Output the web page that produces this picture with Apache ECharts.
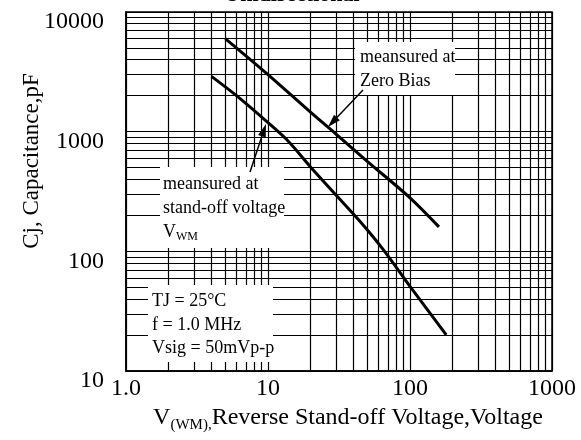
<!DOCTYPE html>
<html>
<head>
<meta charset="utf-8">
<script src="https://cdn.jsdelivr.net/npm/echarts@6/dist/echarts.min.js"></script>
<style>
  html, body { margin: 0; padding: 0; background: #fff; }
  #chart { width: 581px; height: 440px; }
</style>
</head>
<body>
<div id="chart"></div>
<script>
// axis ticks (log decades) and the 1..9 multipliers used for the log grid
const xTicks = [1, 10, 100, 1000];
const yTicks = [10, 100, 1000, 10000];
const gridMult = [1, 2, 3, 4, 5, 6, 7, 8, 9];

// measured at zero bias
const zeroBiasV = [5, 10, 20, 30, 50, 100, 160];
const zeroBiasC = [6000, 3000, 1450, 960, 565, 280, 160];

// measured at stand-off voltage
const standOffV = [4, 6, 10, 14, 20, 30, 45, 65, 100, 180];
const standOffC = [2900, 2000, 1190, 825, 505, 297, 175, 103, 51, 20];

const font = 'Liberation Serif';

// build log grid line values (1..9 per decade)
function logGrid(ticks) {
  let out = [];
  for (let i = 0; i < ticks.length - 1; i++) {
    gridMult.forEach(m => out.push(ticks[i] * m));
  }
  out.push(ticks[ticks.length - 1]);
  return out;
}
const xGrid = logGrid(xTicks);
const yGrid = logGrid(yTicks);

// arrow = line + filled head, tip at (x2,y2)
function arrow(x1, y1, x2, y2) {
  let dx = x2 - x1, dy = y2 - y1;
  let len = Math.sqrt(dx * dx + dy * dy);
  let ux = dx / len, uy = dy / len;
  let bx = x2 - 13 * ux, by = y2 - 13 * uy;
  let px = -uy, py = ux;
  return [
    { type: 'line', z: 60, shape: { x1: x1, y1: y1, x2: bx, y2: by },
      style: { stroke: '#000', lineWidth: 1.5 } },
    { type: 'polygon', z: 60,
      shape: { points: [[x2, y2], [bx + 4 * px, by + 4 * py], [bx - 4 * px, by - 4 * py]] },
      style: { fill: '#000' } }
  ];
}

function box(x, y, w, h) {
  return { type: 'rect', z: 50, shape: { x: x, y: y, width: w, height: h }, style: { fill: '#fff' } };
}

function label(x, y, text, size) {
  return { type: 'text', z: 55, x: x, y: y,
    style: { text: text, fontFamily: font, fontSize: size || 18, lineHeight: 23.5, fill: '#000',
      align: 'left', verticalAlign: 'top' } };
}

const chart = echarts.init(document.getElementById('chart'), null, { renderer: 'canvas' });

const option = {
  animation: false,
  backgroundColor: '#fff',
  grid: { left: 126, right: 29, top: 12, bottom: 69, show: true, borderColor: '#000', borderWidth: 1.5 },
  xAxis: {
    type: 'log', logBase: 10, min: 1, max: 1000,
    axisLine: { show: true, lineStyle: { color: '#000', width: 1.5 } },
    axisTick: { show: false },
    splitLine: { show: false },
    axisLabel: {
      fontFamily: font, fontSize: 24, color: '#000', margin: 6,
      formatter: v => (Math.round(v) === 1 ? '1.0' : String(Math.round(v)))
    }
  },
  yAxis: {
    type: 'log', logBase: 10, min: 10, max: 10000,
    axisLine: { show: true, lineStyle: { color: '#000', width: 1.5 } },
    axisTick: { show: false },
    splitLine: { show: false },
    axisLabel: {
      fontFamily: font, fontSize: 24, color: '#000', margin: 22,
      verticalAlign: 'top', lineHeight: 20,
      formatter: v => String(Math.round(v))
    }
  },
  series: [
    {
      name: 'zero bias', type: 'line', smooth: 0.3, symbol: 'none', z: 5,
      lineStyle: { color: '#000', width: 3 },
      data: zeroBiasV.map((v, i) => [v, zeroBiasC[i]]),
      markLine: {
        silent: true, symbol: ['none', 'none'], label: { show: false },
        lineStyle: { color: '#000', width: 1.2, type: 'solid' },
        emphasis: { disabled: true },
        data: xGrid.map(v => ({ xAxis: v })).concat(yGrid.map(v => ({ yAxis: v })))
      }
    },
    {
      name: 'stand-off', type: 'line', smooth: 0.3, symbol: 'none', z: 5,
      lineStyle: { color: '#000', width: 3 },
      data: standOffV.map((v, i) => [v, standOffC[i]])
    }
  ],
  graphic: [
    // title, cut off at the top edge
    { type: 'text', z: 55, x: 292, y: -16,
      style: { text: 'Unidirectional', fontFamily: font, fontSize: 22, fontWeight: 'bold', fill: '#000', align: 'center', verticalAlign: 'top' } },
    // y axis title
    { type: 'text', z: 55, x: 32, y: 161, rotation: Math.PI / 2,
      style: { text: 'Cj, Capacitance,pF', fontFamily: font, fontSize: 23, fill: '#000', align: 'center', verticalAlign: 'middle' } },
    // x axis title with subscript
    { type: 'text', z: 55, x: 348, y: 418,
      style: {
        text: '{m|V}{s|(WM),}{m|Reverse Stand-off Voltage,Voltage}',
        align: 'center', verticalAlign: 'middle',
        rich: {
          m: { fontFamily: font, fontSize: 24, fill: '#000' },
          s: { fontFamily: font, fontSize: 15, fill: '#000', padding: [14, 0, 0, 0] }
        }
      } },
    // zero bias note
    box(355, 42, 100, 53),
    label(360, 46, 'meansured at\nZero Bias'),
    // stand-off note
    box(160, 167, 124, 81),
    label(163, 173, 'meansured at\nstand-off voltage'),
    { type: 'text', z: 55, x: 163, y: 232,
      style: { text: 'V', fontFamily: font, fontSize: 18, fill: '#000', align: 'left', verticalAlign: 'middle' } },
    { type: 'text', z: 55, x: 176, y: 237,
      style: { text: 'WM', fontFamily: font, fontSize: 12, fill: '#000', align: 'left', verticalAlign: 'middle' } },
    // test conditions
    box(148, 285, 125, 77),
    label(152, 290, 'TJ = 25°C\nf = 1.0 MHz\nVsig = 50mVp-p')
  ].concat(arrow(363, 90, 328, 127)).concat(arrow(250, 172, 266, 124))
};

chart.setOption(option);
</script>
</body>
</html>
